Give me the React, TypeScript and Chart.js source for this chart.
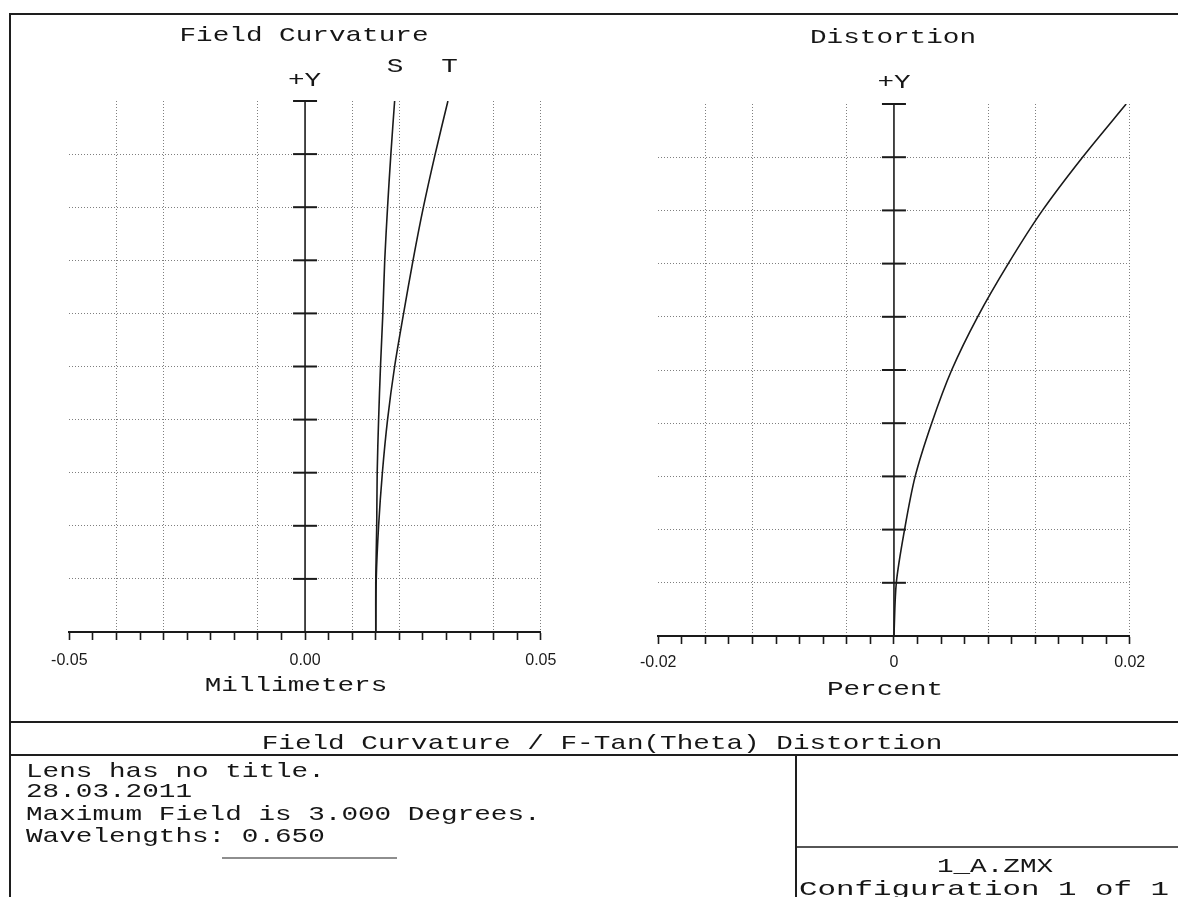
import React, { useEffect, useRef } from 'react';
import { Chart, registerables } from 'chart.js';

Chart.register(...registerables);

// ---- data ----
const fieldFraction = [0, 0.1, 0.2, 0.3, 0.4, 0.5, 0.6, 0.7, 0.8, 0.9, 1.0];
const sagittalMm = [0.0150, 0.0150, 0.0152, 0.0153, 0.0156, 0.0160, 0.0165, 0.0169, 0.0175, 0.0182, 0.0190];
const tangentialMm = [0.0150, 0.0151, 0.0156, 0.0164, 0.0175, 0.0190, 0.0209, 0.0229, 0.0251, 0.0276, 0.0303];
const distortionPct = [0, 0.0002, 0.0009, 0.0018, 0.0032, 0.0049, 0.0071, 0.0097, 0.0126, 0.0160, 0.0197];

const fcTickValues = [-0.05, 0, 0.05];
const fcTickLabels = ['-0.05', '0.00', '0.05'];
const distTickValues = [-0.02, 0, 0.02];
const distTickLabels = ['-0.02', '0', '0.02'];

// grid lines that are visible in the scanned reference
const fcGridValues = [-0.04, -0.03, -0.01, 0.01, 0.02, 0.04, 0.05];
const distGridValues = [-0.016, -0.012, -0.004, 0.008, 0.012, 0.02];

const fieldTicks = fieldFraction.slice(1);

const near = (a: number, b: number) => Math.abs(a - b) < 1e-9;

const centerAxisPlugin = {
  id: 'centerAxis',
  beforeDatasetsDraw(chart: any) {
    const { ctx, scales } = chart;
    const x = scales.x;
    const y = scales.y;
    const x0 = x.getPixelForValue(0);
    ctx.save();
    ctx.strokeStyle = '#1a1a1a';
    ctx.lineWidth = 1.6;
    ctx.beginPath();
    ctx.moveTo(x0, y.getPixelForValue(0));
    ctx.lineTo(x0, y.getPixelForValue(1));
    ctx.stroke();
    ctx.lineWidth = 2;
    fieldTicks.forEach((v) => {
      const py = y.getPixelForValue(v);
      ctx.beginPath();
      ctx.moveTo(x0 - 12, py);
      ctx.lineTo(x0 + 12, py);
      ctx.stroke();
    });
    ctx.restore();
  },
};

function lineDataset(label: string, xs: number[]) {
  return {
    label,
    data: xs.map((v, i) => ({ x: v, y: fieldFraction[i] })),
    showLine: true,
    borderColor: '#1a1a1a',
    borderWidth: 1.6,
    pointRadius: 0,
    fill: false,
    tension: 0.3,
  };
}

function makeConfig(o: any): any {
  const gridColor = 'rgba(120,120,120,0.95)';
  return {
    type: 'scatter',
    data: { datasets: o.datasets },
    options: {
      animation: false,
      responsive: false,
      maintainAspectRatio: false,
      layout: { padding: o.padding },
      plugins: { legend: { display: false }, tooltip: { enabled: false }, title: { display: false } },
      elements: { point: { radius: 0 } },
      scales: {
        x: {
          type: 'linear',
          position: 'bottom',
          min: o.xMin,
          max: o.xMax,
          afterFit: (s: any) => { s.height = 40; },
          ticks: {
            stepSize: o.xStep,
            autoSkip: false,
            maxRotation: 0,
            minRotation: 0,
            padding: o.labelPad,
            color: '#1a1a1a',
            font: { family: "'Liberation Sans', Arial, sans-serif", size: 16 },
            callback: (v: any) => {
              const i = o.labelValues.findIndex((l: number) => near(l, Number(v)));
              return i >= 0 ? o.labelTexts[i] : '';
            },
          },
          grid: {
            drawOnChartArea: true,
            drawTicks: true,
            tickLength: 8,
            tickWidth: 1.6,
            tickColor: '#1a1a1a',
            lineWidth: 1,
            color: (ctx: any) =>
              ctx.tick && o.gridValues.some((g: number) => near(g, ctx.tick.value)) ? gridColor : 'rgba(0,0,0,0)',
          },
          border: { display: true, color: '#1a1a1a', width: 2, dash: [1, 2] },
        },
        y: {
          type: 'linear',
          min: 0,
          max: 1,
          afterFit: (s: any) => { s.width = 0; },
          ticks: { display: false, stepSize: 0.1 },
          grid: {
            drawTicks: false,
            lineWidth: 1,
            color: (ctx: any) =>
              ctx.tick && ctx.tick.value > 0.001 && ctx.tick.value < 0.999 ? gridColor : 'rgba(0,0,0,0)',
          },
          border: { display: false, dash: [1, 2] },
        },
      },
    },
    plugins: [centerAxisPlugin],
  };
}

function ChartCanvas(props: { left: number; top: number; width: number; height: number; build: () => any }) {
  const ref = useRef<HTMLCanvasElement | null>(null);
  useEffect(() => {
    const chart = new Chart(ref.current as HTMLCanvasElement, props.build());
    return () => chart.destroy();
  }, []);
  return (
    <canvas
      ref={ref}
      width={props.width}
      height={props.height}
      style={{ position: 'absolute', left: props.left, top: props.top, width: props.width, height: props.height }}
    />
  );
}

const MONO = "'Liberation Mono', 'Courier New', monospace";
const ADV = 16.6;

function Txt(p: { x: number; y: number; s: string; anchor?: string; adv?: number; len?: number }) {
  const len = p.len ?? p.s.length * (p.adv ?? ADV);
  return (
    <text
      x={p.x}
      y={p.y}
      textAnchor={p.anchor ?? 'middle'}
      textLength={len}
      lengthAdjust="spacingAndGlyphs"
      fontFamily={MONO}
      fontSize={21}
      fill="#161616"
    >
      {p.s}
    </text>
  );
}

export default function App() {
  const buildLeft = () =>
    makeConfig({
      datasets: [lineDataset('S', sagittalMm), lineDataset('T', tangentialMm)],
      xMin: -0.05,
      xMax: 0.05,
      xStep: 0.005,
      labelValues: fcTickValues,
      labelTexts: fcTickLabels,
      gridValues: fcGridValues,
      padding: { left: 59.3, right: 49.2, top: 16, bottom: 28 },
      labelPad: 11,
    });
  const buildRight = () =>
    makeConfig({
      datasets: [lineDataset('Distortion', distortionPct)],
      xMin: -0.02,
      xMax: 0.02,
      xStep: 0.002,
      labelValues: distTickValues,
      labelTexts: distTickLabels,
      gridValues: distGridValues,
      padding: { left: 58.2, right: 48.3, top: 19, bottom: 24 },
      labelPad: 9,
    });

  return (
    <div
      style={{
        position: 'fixed',
        left: 0,
        top: 0,
        width: 1178,
        height: 897,
        background: '#ffffff',
        overflow: 'hidden',
      }}
    >
      <ChartCanvas left={10} top={85} width={580} height={615} build={buildLeft} />
      <ChartCanvas left={600} top={85} width={578} height={615} build={buildRight} />
      <svg
        width={1178}
        height={897}
        style={{ position: 'absolute', left: 0, top: 0, pointerEvents: 'none' }}
      >
        <g stroke="#1e1e1e" fill="none">
          <line x1={9} y1={14} x2={1178} y2={14} strokeWidth={2} />
          <line x1={10} y1={13} x2={10} y2={897} strokeWidth={2} />
          <line x1={10} y1={722} x2={1178} y2={722} strokeWidth={2} />
          <line x1={10} y1={755} x2={1178} y2={755} strokeWidth={2} />
          <line x1={796} y1={755} x2={796} y2={897} strokeWidth={2} />
          <line x1={796} y1={847} x2={1178} y2={847} strokeWidth={1.6} />
          <line x1={222} y1={858} x2={397} y2={858} strokeWidth={1.2} />
        </g>
        <Txt x={304} y={41} s="Field Curvature" />
        <Txt x={893} y={43} s="Distortion" />
        <Txt x={304.5} y={86} s="+Y" />
        <Txt x={894} y={88} s="+Y" />
        <Txt x={395} y={72} s="S" />
        <Txt x={449.5} y={72} s="T" />
        <Txt x={296} y={691} s="Millimeters" />
        <Txt x={885} y={695} s="Percent" />
        <Txt x={602} y={749} s="Field Curvature / F-Tan(Theta) Distortion" />
        <Txt x={26} y={777} s="Lens has no title." anchor="start" />
        <Txt x={26} y={797} s="28.03.2011" anchor="start" />
        <Txt x={26} y={820} s="Maximum Field is 3.000 Degrees." anchor="start" />
        <Txt x={26} y={842} s="Wavelengths: 0.650" anchor="start" />
        <Txt x={995} y={872} s="1_A.ZMX" />
        <Txt x={984} y={894.5} s="Configuration 1 of 1" len={370} />
      </svg>
    </div>
  );
}
